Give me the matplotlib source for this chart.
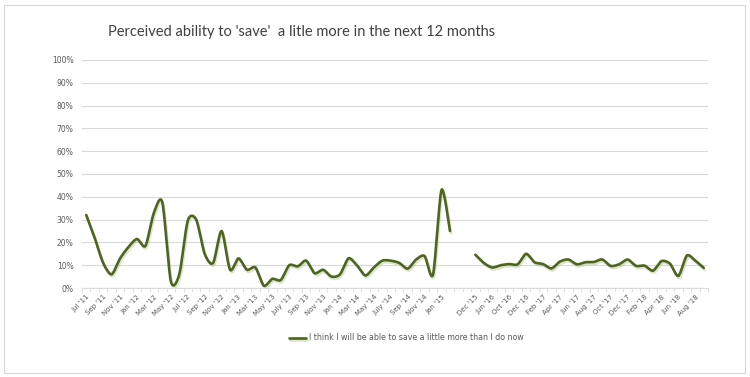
import matplotlib
matplotlib.use('Agg')
import matplotlib.pyplot as plt
import matplotlib.patheffects as pe
from matplotlib.patches import Rectangle
from matplotlib.ticker import PercentFormatter, MultipleLocator
import numpy as np

# categories (Jul '11 .. Sep '18, with a gap in 2015)
months = ["Jul '11", "Aug '11", "Sep '11", "Oct '11", "Nov '11", "Dec '11",
          "Jan '12", "Feb '12", "Mar '12", "Apr '12", "May '12", "Jun '12",
          "Jul '12", "Aug '12", "Sep '12", "Oct '12", "Nov '12", "Dec '12",
          "Jan '13", "Feb '13", "Mar '13", "Apr '13", "May '13", "Jun '13",
          "July '13", "Aug '13", "Sep '13", "Oct '13", "Nov '13", "Dec '13",
          "Jan '14", "Feb '14", "Mar '14", "Apr '14", "May '14", "Jun '14",
          "July '14", "Aug '14", "Sep '14", "Oct '14", "Nov '14", "Dec '14",
          "Jan '15", "Feb '15", "", "", "Dec '15", "Mar '16", "Jun '16", "Aug '16",
          "Oct '16", "Nov '16", "Dec '16", "Jan '17", "Feb '17", "Mar '17",
          "Apr '17", "May '17", "Jun '17", "Jul '17", "Aug '17", "Sep '17",
          "Oct '17", "Nov '17", "Dec '17", "Jan '18", "Feb '18", "Mar '18",
          "Apr '18", "May '18", "Jun '18", "Jul '18", "Aug '18", "Sep '18"]

# % who think they will be able to save a little more (None = no survey)
save_more = [32, 22, 11, 6, 13, 18, 21.5, 18.5, 33, 37.5,
             3, 6, 29.5, 30, 15, 11, 25, 8, 13, 8,
             9, 1, 4, 3.5, 10, 9.5, 12, 6.5, 8, 5,
             6, 13, 10, 5.5, 9, 12, 12, 11, 8.5, 12.5,
             14, 6, 43, 25, None, None, 14.6, 11, 9, 10,
             10.5, 10.4, 15, 11.3, 10.5, 8.6, 11.6, 12.5, 10.4, 11.3,
             11.4, 12.5, 9.7, 10.4, 12.5, 9.7, 9.8, 7.6, 11.8, 10.7,
             5.3, 14.2, 12, 8.8]

series_name = "I think I will be able to save a little more than I do now"
title = "Perceived ability to 'save'  a litle more in the next 12 months"


def smooth(xs, ys, n=16, tension=7.5):
    # Excel-like smoothed line (Catmull-Rom bezier) through the data points
    p = np.column_stack([xs, ys]).astype(float)
    out = [p[0]]
    for i in range(len(p) - 1):
        p0 = p[i - 1] if i > 0 else p[i]
        p1, p2 = p[i], p[i + 1]
        p3 = p[i + 2] if i + 2 < len(p) else p[i + 1]
        c1 = p1 + (p2 - p0) / tension
        c2 = p2 - (p3 - p1) / tension
        t = np.linspace(0, 1, n)[1:, None]
        seg = ((1 - t) ** 3) * p1 + 3 * ((1 - t) ** 2) * t * c1 + 3 * (1 - t) * t ** 2 * c2 + t ** 3 * p2
        out.extend(seg)
    out = np.array(out)
    return out[:, 0], out[:, 1]


fig = plt.figure(figsize=(7.5, 3.77), dpi=100)
ax = fig.add_axes([82 / 750, 1 - 288 / 377, 626 / 750, 228 / 377])

line_color = '#4F6228'
effects = [pe.SimpleLineShadow(offset=(0.8, -1.5), shadow_color='#9BBB59', alpha=0.35),
           pe.Normal()]

x = np.arange(len(months))
segments = []
cur = []
for xi, v in zip(x, save_more):
    if v is None:
        if cur:
            segments.append(cur)
        cur = []
    else:
        cur.append((xi, v))
if cur:
    segments.append(cur)

for k, seg in enumerate(segments):
    sx, sy = smooth([s[0] for s in seg], [s[1] for s in seg])
    ax.plot(sx, sy, color=line_color, lw=1.9, solid_capstyle='round',
            path_effects=effects, label=series_name if k == 0 else None)

ax.set_xlim(-0.5, len(months) - 0.5)
ax.set_ylim(0, 100)
ax.yaxis.set_major_locator(MultipleLocator(10))
ax.yaxis.set_major_formatter(PercentFormatter(decimals=0))
ax.grid(axis='y', color='#D9D9D9', lw=0.8)
ax.set_axisbelow(True)

ax.set_xticks(x[::2])
ax.set_xticklabels(months[::2], rotation=45, ha='right', rotation_mode='anchor',
                   fontsize=5, color='#595959')
ax.set_xticks(np.arange(-0.5, len(months), 1), minor=True)
ax.tick_params(axis='x', which='major', length=0, pad=4)
ax.tick_params(axis='x', which='minor', length=3, color='#D9D9D9')
ax.tick_params(axis='y', length=0, labelsize=5.5, labelcolor='#595959', pad=6)

for s in ['top', 'right', 'left']:
    ax.spines[s].set_visible(False)
ax.spines['bottom'].set_color('#D9D9D9')

fig.text(108 / 750, 1 - 32 / 377, title, fontsize=10.5, color='#404040',
         family='Lato', va='center', ha='left')

fig.legend(loc='center', bbox_to_anchor=(406 / 750, 1 - 338 / 377), frameon=False,
           fontsize=5.7, handlelength=2.2, handletextpad=0.3, labelcolor='#595959')

fig.patches.append(Rectangle((4 / 750, 4 / 377), 741 / 750, 368 / 377, transform=fig.transFigure,
                             fill=False, edgecolor='#D9D9D9', lw=0.8))

fig.savefig('out.png', dpi=100)
